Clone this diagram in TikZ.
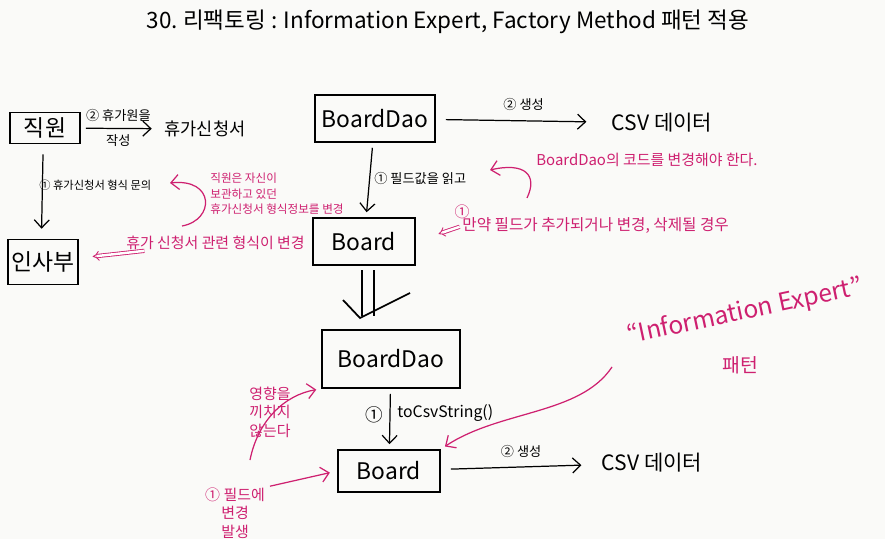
\documentclass[tikz,border=0pt]{standalone}
\usepackage{fontspec}
\setmainfont{Noto Sans CJK KR}
\usetikzlibrary{arrows.meta}
\definecolor{pen}{RGB}{206,32,112}
\definecolor{paper}{RGB}{250,250,248}
\begin{document}
\begin{tikzpicture}[scale=0.2,
    box/.style={draw=black,line width=0.9pt,font=\fontsize{13}{15}\selectfont},
    txt/.style={font=\fontsize{10}{12}\selectfont},
    csv/.style={font=\fontsize{12}{14}\selectfont},
    lbl/.style={font=\fontsize{7.5}{9}\selectfont},
    note/.style={text=pen,font=\fontsize{8.5}{10.5}\selectfont},
    arr/.style={line width=0.7pt,-{Straight Barb[length=1.6mm,width=3mm]}},
    parr/.style={pen,line width=0.7pt,-{Straight Barb[length=1.6mm,width=3mm]}},
    dbl/.style={pen,double,double distance=1.4pt,line width=0.5pt,-{Implies}}]
    \tikzstyle{every node}+=[inner sep=0pt]
    \fill [paper] (0,0) rectangle (88.5,-53.9);
    \useasboundingbox (0,0) rectangle (88.5,-53.9);
    \node (title) at (44.8,-2.2) {\fontsize{12.8}{14}\selectfont 30.\ 리팩토링 : Information Expert, Factory Method 패턴 적용};
    \node [box,minimum width=1.4cm,minimum height=0.62cm] (jikwon) at (4.5,-12.8) {직원};
    \node [txt] (hyuga) at (20.5,-12.9) {휴가신청서};
    \node [box,minimum width=1.4cm,minimum height=0.9cm] (insabu) at (4.3,-26.2) {인사부};
    \node [box,minimum width=2.4cm,minimum height=0.94cm] (dao1) at (37.5,-11.85) {BoardDao};
    \node [csv] (csv1) at (66.2,-12.3) {CSV 데이터};
    \node [box,minimum width=2.04cm,minimum height=0.94cm] (board1) at (36.4,-24.15) {Board};
    \node [box,minimum width=2.76cm,minimum height=1.16cm] (dao2) at (39.1,-35.9) {BoardDao};
    \node [box,minimum width=2.04cm,minimum height=0.84cm] (board2) at (38.9,-47.1) {Board};
    \node [csv] (csv2) at (65.2,-46.3) {CSV 데이터};
    \draw [arr,shorten <=1mm,shorten >=2.5mm] (jikwon) -- (hyuga)
        node [lbl,pos=0.45,above=1.2mm] (jak2) {② 휴가원을}
        node [lbl,pos=0.45,below=1.2mm] (jak3) {작성};
    \draw [arr,shorten <=2mm,shorten >=2mm] ([xshift=-1.8mm]jikwon.south) -- ([xshift=-1.6mm]insabu.north);
    \node [lbl,anchor=west,font=\fontsize{6.4}{8}\selectfont] (munui) at (3.9,-18.5) {① 휴가신청서 형식 문의};
    \draw [arr,shorten <=2mm,shorten >=5mm] (dao1) -- (csv1)
        node [lbl,midway,above=2mm] (saeng1) {② 생성};
    \draw [arr,shorten <=1mm,shorten >=1mm] (dao1) -- (board1);
    \node [lbl,anchor=west] (ilgo) at (37.4,-17.8) {① 필드값을 읽고};
    \draw [line width=1pt] (36.2,-27) -- (36.2,-31.6) (37.4,-27) -- (37.4,-31.6);
    \draw [line width=1pt] (34.3,-30) -- (36,-31.8) -- (41,-29.3);
    \draw [arr,shorten <=1mm,shorten >=1mm] (dao2) -- (board2);
    \node [lbl,anchor=east,font=\fontsize{10}{12}\selectfont] (one2) at (38.3,-41.5) {①};
    \node [lbl,anchor=west,font=\fontsize{9}{11}\selectfont] (tocsv) at (39.7,-41.3) {toCsvString()};
    \draw [arr,shorten <=2mm,shorten >=4mm] (board2) -- (csv2)
        node [lbl,midway,above=1.8mm] (saeng2) {② 생성};
    \node [note,anchor=west] (nt1) at (12.6,-24.3) {휴가 신청서 관련 형식이 변경};
    \draw [dbl,shorten >=2.8mm,shorten <=1.2mm] (nt1) -- (insabu);
    \node [note,anchor=north west,align=left,font=\fontsize{6.6}{8.6}\selectfont] (nt2) at (21,-17.3) {직원은 자신이\\보관하고 있던\\휴가신청서 형식정보를 변경};
    \coordinate (c1a) at (18.2,-22.6);
    \coordinate (c1b) at (17,-18.3);
    \draw [parr] (c1a) .. controls (21.5,-22) and (21.5,-17.8) .. (c1b);
    \node [note,anchor=west] (nt3) at (53.6,-16) {BoardDao의 코드를 변경해야 한다.};
    \coordinate (c2a) at (52.7,-19.8);
    \coordinate (c2b) at (49,-17);
    \draw [parr] (c2a) .. controls (53.8,-17.5) and (52.5,-16.2) .. (c2b);
    \node [note] (one1) at (46.2,-21.2) {①};
    \node [note,anchor=west,font=\fontsize{8.9}{10.5}\selectfont] (nt4) at (46.2,-22.6) {만약 필드가 추가되거나 변경, 삭제될 경우};
    \draw [dbl,shorten >=4.8mm,shorten <=0.5mm] (nt4.west) -- (board1.east);
    \node [note,rotate=12,font=\fontsize{14}{16}\selectfont] (expert) at (74.5,-31.2) {“Information Expert”};
    \node [note,font=\fontsize{11}{13}\selectfont] (paeteon) at (74,-36.5) {패턴};
    \coordinate (c4a) at (61.2,-36.7);
    \draw [parr,shorten >=1mm] (c4a) .. controls (58,-41.5) and (50,-41) .. (board2.north east);
    \node [note,align=center] (nt5) at (27,-41.2) {영향을\\끼치지\\않는다};
    \coordinate (c3a) at (25,-46);
    \draw [parr,shorten >=1mm] (c3a) .. controls (25.8,-42) and (28.5,-39.5) .. (dao2.south west);
    \node [note,align=center] (nt6) at (23.5,-51.3) {① 필드에\\변경\\발생};
    \draw [parr,shorten >=1.5mm,shorten <=1mm] (nt6.north east) -- (board2.west);
\end{tikzpicture}
\end{document}
